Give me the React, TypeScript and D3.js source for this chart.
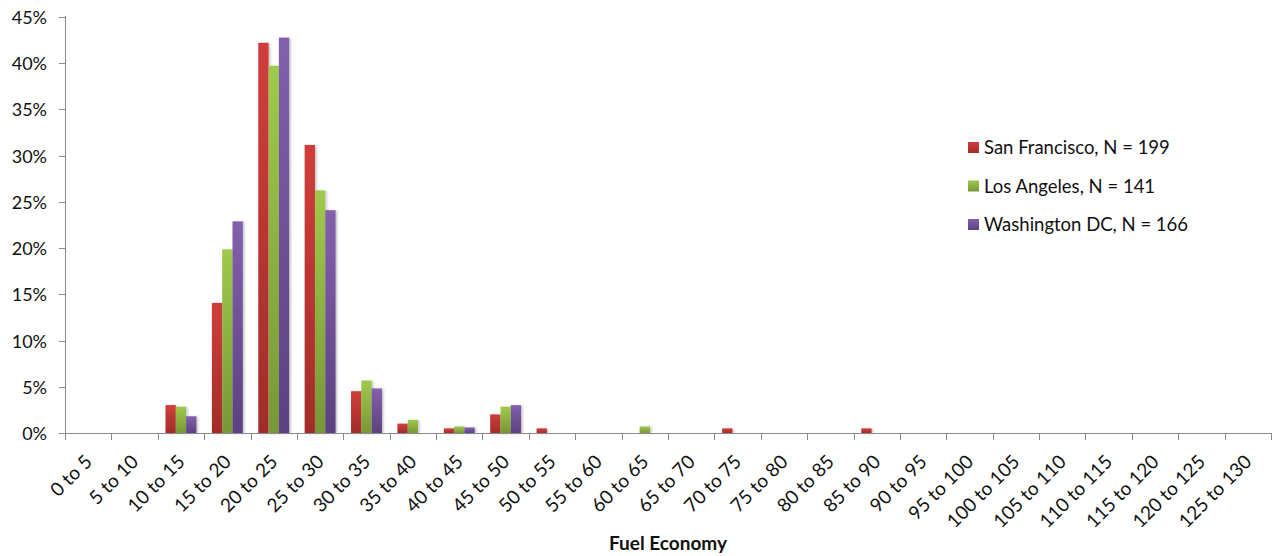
import React from "react";
import * as d3 from "d3";

// Fuel economy bins (mpg)
const categories: string[] = [
  "0 to 5", "5 to 10", "10 to 15", "15 to 20", "20 to 25", "25 to 30", "30 to 35",
  "35 to 40", "40 to 45", "45 to 50", "50 to 55", "55 to 60", "60 to 65", "65 to 70",
  "70 to 75", "75 to 80", "80 to 85", "85 to 90", "90 to 95", "95 to 100", "100 to 105",
  "105 to 110", "110 to 115", "115 to 120", "120 to 125", "125 to 130",
];

// Share of vehicles in each bin, percent
const sanFrancisco: number[] = [
  0, 0, 3.02, 14.07, 42.21, 31.16, 4.52, 1.01, 0.5, 2.01, 0.5, 0, 0, 0,
  0.5, 0, 0, 0.5, 0, 0, 0, 0, 0, 0, 0, 0,
];
const losAngeles: number[] = [
  0, 0, 2.84, 19.86, 39.72, 26.24, 5.67, 1.42, 0.71, 2.84, 0, 0, 0.71, 0,
  0, 0, 0, 0, 0, 0, 0, 0, 0, 0, 0, 0,
];
const washingtonDC: number[] = [
  0, 0, 1.81, 22.89, 42.77, 24.1, 4.82, 0, 0.6, 3.01, 0, 0, 0, 0,
  0, 0, 0, 0, 0, 0, 0, 0, 0, 0, 0, 0,
];

const seriesNames: string[] = [
  "San Francisco, N = 199",
  "Los Angeles, N = 141",
  "Washington DC, N = 166",
];

const yTicks: number[] = [0, 5, 10, 15, 20, 25, 30, 35, 40, 45];

const seriesColors = [
  { top: "#d03e3b", bottom: "#a22c2a" },
  { top: "#a0c94c", bottom: "#789737" },
  { top: "#8260ad", bottom: "#5c4180" },
];

const W = 1273;
const H = 556;
const M = { left: 65, right: 2, top: 17, bottom: 123 };
const FONT = "Lato, 'Open Sans', sans-serif";

export default function App() {
  const series = [sanFrancisco, losAngeles, washingtonDC];
  const x0 = d3
    .scaleBand<string>()
    .domain(categories)
    .range([M.left, W - M.right])
    .padding(0);
  const x1 = d3
    .scaleBand<number>()
    .domain([0, 1, 2])
    .range([0, x0.step()])
    .paddingInner(0)
    .paddingOuter(0.75);
  const y = d3.scaleLinear().domain([0, 45]).range([H - M.bottom, M.top]);
  const y0 = y(0);
  const axisColor = "#8c8c8c";
  const boundaries = d3.range(categories.length + 1).map((i) => M.left + i * x0.step());

  return (
    <svg
      width={W}
      height={H}
      style={{ position: "absolute", left: 0, top: 0, background: "#fff" }}
      fontFamily={FONT}
    >
      <defs>
        {seriesColors.map((c, i) => (
          <linearGradient key={i} id={`grad${i}`} x1="0" y1="0" x2="0" y2="1">
            <stop offset="0" stopColor={c.top} />
            <stop offset="1" stopColor={c.bottom} />
          </linearGradient>
        ))}
        <filter id="shadow" x="-30%" y="-10%" width="160%" height="120%">
          <feDropShadow dx="1.5" dy="0.5" stdDeviation="1" floodColor="#000" floodOpacity="0.25" />
        </filter>
      </defs>

      {/* bars */}
      <g filter="url(#shadow)">
        {categories.map((cat, ci) =>
          series.map((vals, si) => {
            const v = vals[ci];
            if (!v) return null;
            return (
              <rect
                key={`${ci}-${si}`}
                x={(x0(cat) as number) + (x1(si) as number)}
                y={y(v)}
                width={x1.bandwidth()}
                height={y0 - y(v)}
                fill={`url(#grad${si})`}
              />
            );
          })
        )}
      </g>

      {/* y axis */}
      <line x1={M.left + 0.5} x2={M.left + 0.5} y1={M.top - 1} y2={y0} stroke={axisColor} />
      {yTicks.map((t) => (
        <g key={t}>
          <line x1={M.left - 6} x2={M.left} y1={Math.round(y(t)) + 0.5} y2={Math.round(y(t)) + 0.5} stroke={axisColor} />
          <text
            x={47}
            y={y(t)}
            textAnchor="end"
            dominantBaseline="central"
            fontSize={18}
            fill="#111"
          >
            {`${t}%`}
          </text>
        </g>
      ))}

      {/* x axis */}
      <line x1={M.left} x2={W - M.right} y1={Math.round(y0) + 0.5} y2={Math.round(y0) + 0.5} stroke={axisColor} />
      {boundaries.map((bx, i) => (
        <line key={i} x1={Math.round(bx) + 0.5} x2={Math.round(bx) + 0.5} y1={y0} y2={y0 + 7} stroke={axisColor} />
      ))}
      {categories.map((cat) => {
        const cx = (x0(cat) as number) + x0.step() / 2;
        return (
          <text
            key={cat}
            transform={`translate(${cx + 5},${463}) rotate(-45)`}
            textAnchor="end"
            fontSize={19}
            fill="#111"
          >
            {cat}
          </text>
        );
      })}

      <text x={(M.left + W - M.right) / 2} y={550} textAnchor="middle" fontSize={19} fontWeight="bold" fill="#111">
        Fuel Economy
      </text>

      {/* legend */}
      {seriesNames.map((name, i) => {
        const ly = 147 + i * 38.5;
        return (
          <g key={name}>
            <rect x={968} y={ly - 5} width={11} height={11} fill={`url(#grad${i})`} />
            <text x={984} y={ly} dominantBaseline="central" fontSize={18.5} fill="#111">
              {name}
            </text>
          </g>
        );
      })}
    </svg>
  );
}
